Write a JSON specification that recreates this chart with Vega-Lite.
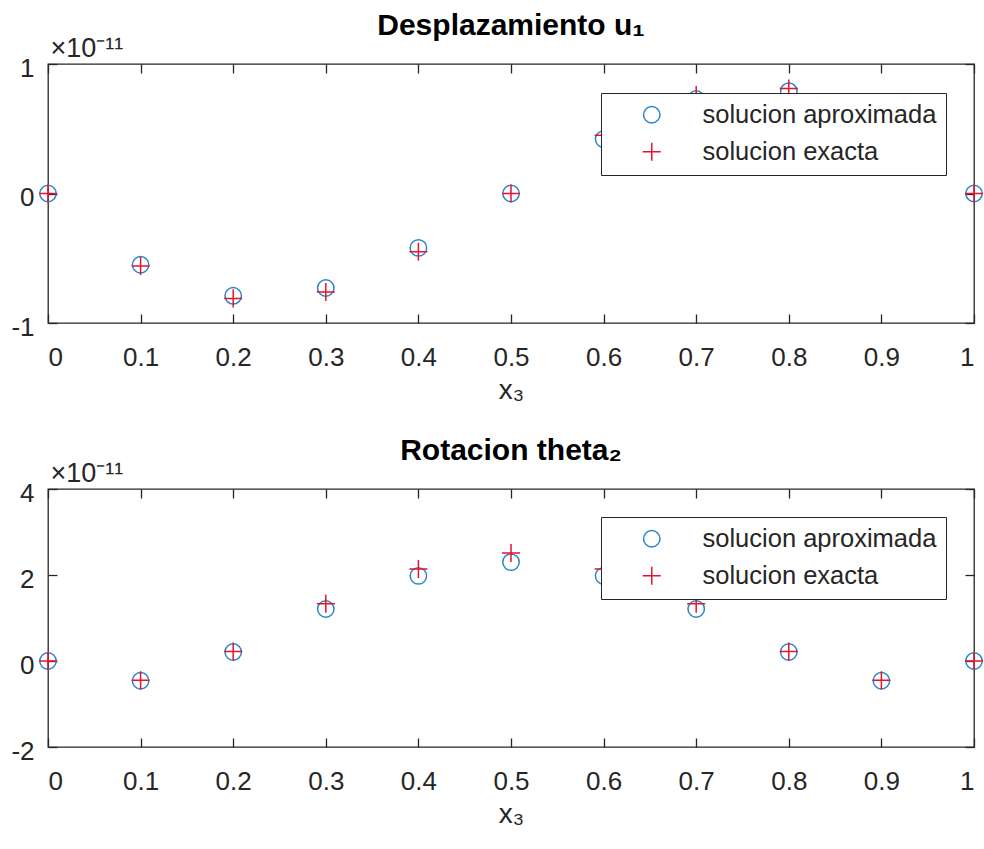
{
  "$schema": "https://vega.github.io/schema/vega-lite/v6.json",
  "background": "white",
  "padding": {"left": 10, "top": 10, "right": 8, "bottom": 5},
  "spacing": 30,
  "datasets": {
    "u1": [
      {"x": 0, "y": 0, "serie": "solucion aproximada"},
      {"x": 0.1, "y": -0.55, "serie": "solucion aproximada"},
      {"x": 0.2, "y": -0.79, "serie": "solucion aproximada"},
      {"x": 0.3, "y": -0.73, "serie": "solucion aproximada"},
      {"x": 0.4, "y": -0.42, "serie": "solucion aproximada"},
      {"x": 0.5, "y": 0, "serie": "solucion aproximada"},
      {"x": 0.6, "y": 0.42, "serie": "solucion aproximada"},
      {"x": 0.7, "y": 0.73, "serie": "solucion aproximada"},
      {"x": 0.8, "y": 0.79, "serie": "solucion aproximada"},
      {"x": 0.9, "y": 0.55, "serie": "solucion aproximada"},
      {"x": 1, "y": 0, "serie": "solucion aproximada"},
      {"x": 0, "y": 0, "serie": "solucion exacta"},
      {"x": 0.1, "y": -0.56, "serie": "solucion exacta"},
      {"x": 0.2, "y": -0.81, "serie": "solucion exacta"},
      {"x": 0.3, "y": -0.76, "serie": "solucion exacta"},
      {"x": 0.4, "y": -0.45, "serie": "solucion exacta"},
      {"x": 0.5, "y": 0, "serie": "solucion exacta"},
      {"x": 0.6, "y": 0.45, "serie": "solucion exacta"},
      {"x": 0.7, "y": 0.76, "serie": "solucion exacta"},
      {"x": 0.8, "y": 0.81, "serie": "solucion exacta"},
      {"x": 0.9, "y": 0.56, "serie": "solucion exacta"},
      {"x": 1, "y": 0, "serie": "solucion exacta"}
    ],
    "theta2": [
      {"x": 0, "y": 0, "serie": "solucion aproximada"},
      {"x": 0.1, "y": -0.46, "serie": "solucion aproximada"},
      {"x": 0.2, "y": 0.21, "serie": "solucion aproximada"},
      {"x": 0.3, "y": 1.21, "serie": "solucion aproximada"},
      {"x": 0.4, "y": 1.98, "serie": "solucion aproximada"},
      {"x": 0.5, "y": 2.3, "serie": "solucion aproximada"},
      {"x": 0.6, "y": 1.98, "serie": "solucion aproximada"},
      {"x": 0.7, "y": 1.21, "serie": "solucion aproximada"},
      {"x": 0.8, "y": 0.21, "serie": "solucion aproximada"},
      {"x": 0.9, "y": -0.46, "serie": "solucion aproximada"},
      {"x": 1, "y": 0, "serie": "solucion aproximada"},
      {"x": 0, "y": 0, "serie": "solucion exacta"},
      {"x": 0.1, "y": -0.45, "serie": "solucion exacta"},
      {"x": 0.2, "y": 0.22, "serie": "solucion exacta"},
      {"x": 0.3, "y": 1.33, "serie": "solucion exacta"},
      {"x": 0.4, "y": 2.14, "serie": "solucion exacta"},
      {"x": 0.5, "y": 2.51, "serie": "solucion exacta"},
      {"x": 0.6, "y": 2.14, "serie": "solucion exacta"},
      {"x": 0.7, "y": 1.33, "serie": "solucion exacta"},
      {"x": 0.8, "y": 0.22, "serie": "solucion exacta"},
      {"x": 0.9, "y": -0.45, "serie": "solucion exacta"},
      {"x": 1, "y": 0, "serie": "solucion exacta"}
    ]
  },
  "vconcat": [
    {
      "width": 926,
      "height": 259,
      "title": {"text": "Desplazamiento u₁"},
      "data": {"name": "u1"},
      "layer": [
        {
          "mark": {"type": "point", "filled": false, "strokeWidth": 1.5, "size": 270, "opacity": 1},
          "encoding": {
            "x": {"field": "x", "type": "quantitative", "scale": {"domain": [0, 1], "nice": false},
                  "axis": {"orient": "bottom", "values": [0, 0.1, 0.2, 0.3, 0.4, 0.5, 0.6, 0.7, 0.8, 0.9, 1], "labelExpr": "'' + datum.value", "title": "x₃"}},
            "y": {"field": "y", "type": "quantitative", "scale": {"domain": [-1, 1], "nice": false},
                  "axis": {"orient": "left", "values": [-1, 0, 1], "labelExpr": "'' + datum.value", "title": "×10⁻¹¹", "titleAngle": 0, "titleAlign": "left", "titleBaseline": "alphabetic", "titleX": 2, "titleY": -8, "titleFontSize": 27}},
            "color": {"field": "serie", "type": "nominal", "scale": {"domain": ["solucion aproximada", "solucion exacta"], "range": ["#2a86c4", "#e8132f"]},
                      "legend": {"orient": "none", "legendX": 553, "legendY": 29, "title": null}},
            "shape": {"field": "serie", "type": "nominal", "scale": {"domain": ["solucion aproximada", "solucion exacta"], "range": ["circle", "M-1.1,0H1.1M0,-1.1V1.1"]},
                      "legend": {"orient": "none", "legendX": 553, "legendY": 29, "title": null}}
          }
        },
        {
          "mark": {"type": "point", "opacity": 0},
          "encoding": {
            "x": {"field": "x", "type": "quantitative", "scale": {"domain": [0, 1], "nice": false},
                  "axis": {"orient": "top", "values": [0, 0.1, 0.2, 0.3, 0.4, 0.5, 0.6, 0.7, 0.8, 0.9, 1], "labels": false, "title": null}},
            "y": {"field": "y", "type": "quantitative", "scale": {"domain": [-1, 1], "nice": false},
                  "axis": {"orient": "right", "values": [-1, 0, 1], "labels": false, "title": null}}
          }
        }
      ],
      "resolve": {"scale": {"color": "independent", "shape": "independent"}}
    },
    {
      "width": 926,
      "height": 258,
      "title": {"text": "Rotacion theta₂"},
      "data": {"name": "theta2"},
      "layer": [
        {
          "mark": {"type": "point", "filled": false, "strokeWidth": 1.5, "size": 270, "opacity": 1},
          "encoding": {
            "x": {"field": "x", "type": "quantitative", "scale": {"domain": [0, 1], "nice": false},
                  "axis": {"orient": "bottom", "values": [0, 0.1, 0.2, 0.3, 0.4, 0.5, 0.6, 0.7, 0.8, 0.9, 1], "labelExpr": "'' + datum.value", "title": "x₃"}},
            "y": {"field": "y", "type": "quantitative", "scale": {"domain": [-2, 4], "nice": false},
                  "axis": {"orient": "left", "values": [-2, 0, 2, 4], "labelExpr": "'' + datum.value", "title": "×10⁻¹¹", "titleAngle": 0, "titleAlign": "left", "titleBaseline": "alphabetic", "titleX": 2, "titleY": -8, "titleFontSize": 27}},
            "color": {"field": "serie", "type": "nominal", "scale": {"domain": ["solucion aproximada", "solucion exacta"], "range": ["#2a86c4", "#e8132f"]},
                      "legend": {"orient": "none", "legendX": 553, "legendY": 28, "title": null}},
            "shape": {"field": "serie", "type": "nominal", "scale": {"domain": ["solucion aproximada", "solucion exacta"], "range": ["circle", "M-1.1,0H1.1M0,-1.1V1.1"]},
                      "legend": {"orient": "none", "legendX": 553, "legendY": 28, "title": null}}
          }
        },
        {
          "mark": {"type": "point", "opacity": 0},
          "encoding": {
            "x": {"field": "x", "type": "quantitative", "scale": {"domain": [0, 1], "nice": false},
                  "axis": {"orient": "top", "values": [0, 0.1, 0.2, 0.3, 0.4, 0.5, 0.6, 0.7, 0.8, 0.9, 1], "labels": false, "title": null}},
            "y": {"field": "y", "type": "quantitative", "scale": {"domain": [-2, 4], "nice": false},
                  "axis": {"orient": "right", "values": [-2, 0, 2, 4], "labels": false, "title": null}}
          }
        }
      ],
      "resolve": {"scale": {"color": "independent", "shape": "independent"}}
    }
  ],
  "resolve": {"scale": {"color": "independent", "shape": "independent"}},
  "config": {
    "font": "Liberation Sans",
    "view": {"stroke": "#262626", "strokeWidth": 1.3},
    "axis": {
      "grid": false, "domain": false, "tickColor": "#262626", "tickSize": -9, "tickWidth": 1.3,
      "labelFont": "Liberation Sans", "labelFontSize": 26, "labelColor": "#262626", "labelPadding": 30,
      "titleFont": "Liberation Sans", "titleFontSize": 28, "titleFontWeight": "normal", "titleColor": "#262626", "titlePadding": 6
    },
    "axisLeft": {"labelPadding": 23, "labelOffset": 4},
    "title": {"font": "Liberation Sans", "fontSize": 30, "fontWeight": "bold", "color": "#000000", "frame": "group", "offset": -7},
    "legend": {
      "strokeColor": "#262626", "fillColor": "white", "padding": 9, "rowPadding": 10,
      "labelFont": "Liberation Sans", "labelFontSize": 25.5, "labelColor": "#262626",
      "symbolSize": 270, "symbolStrokeWidth": 1.5, "symbolOffset": 29, "labelOffset": 38, "labelLimit": 400
    }
  }
}
